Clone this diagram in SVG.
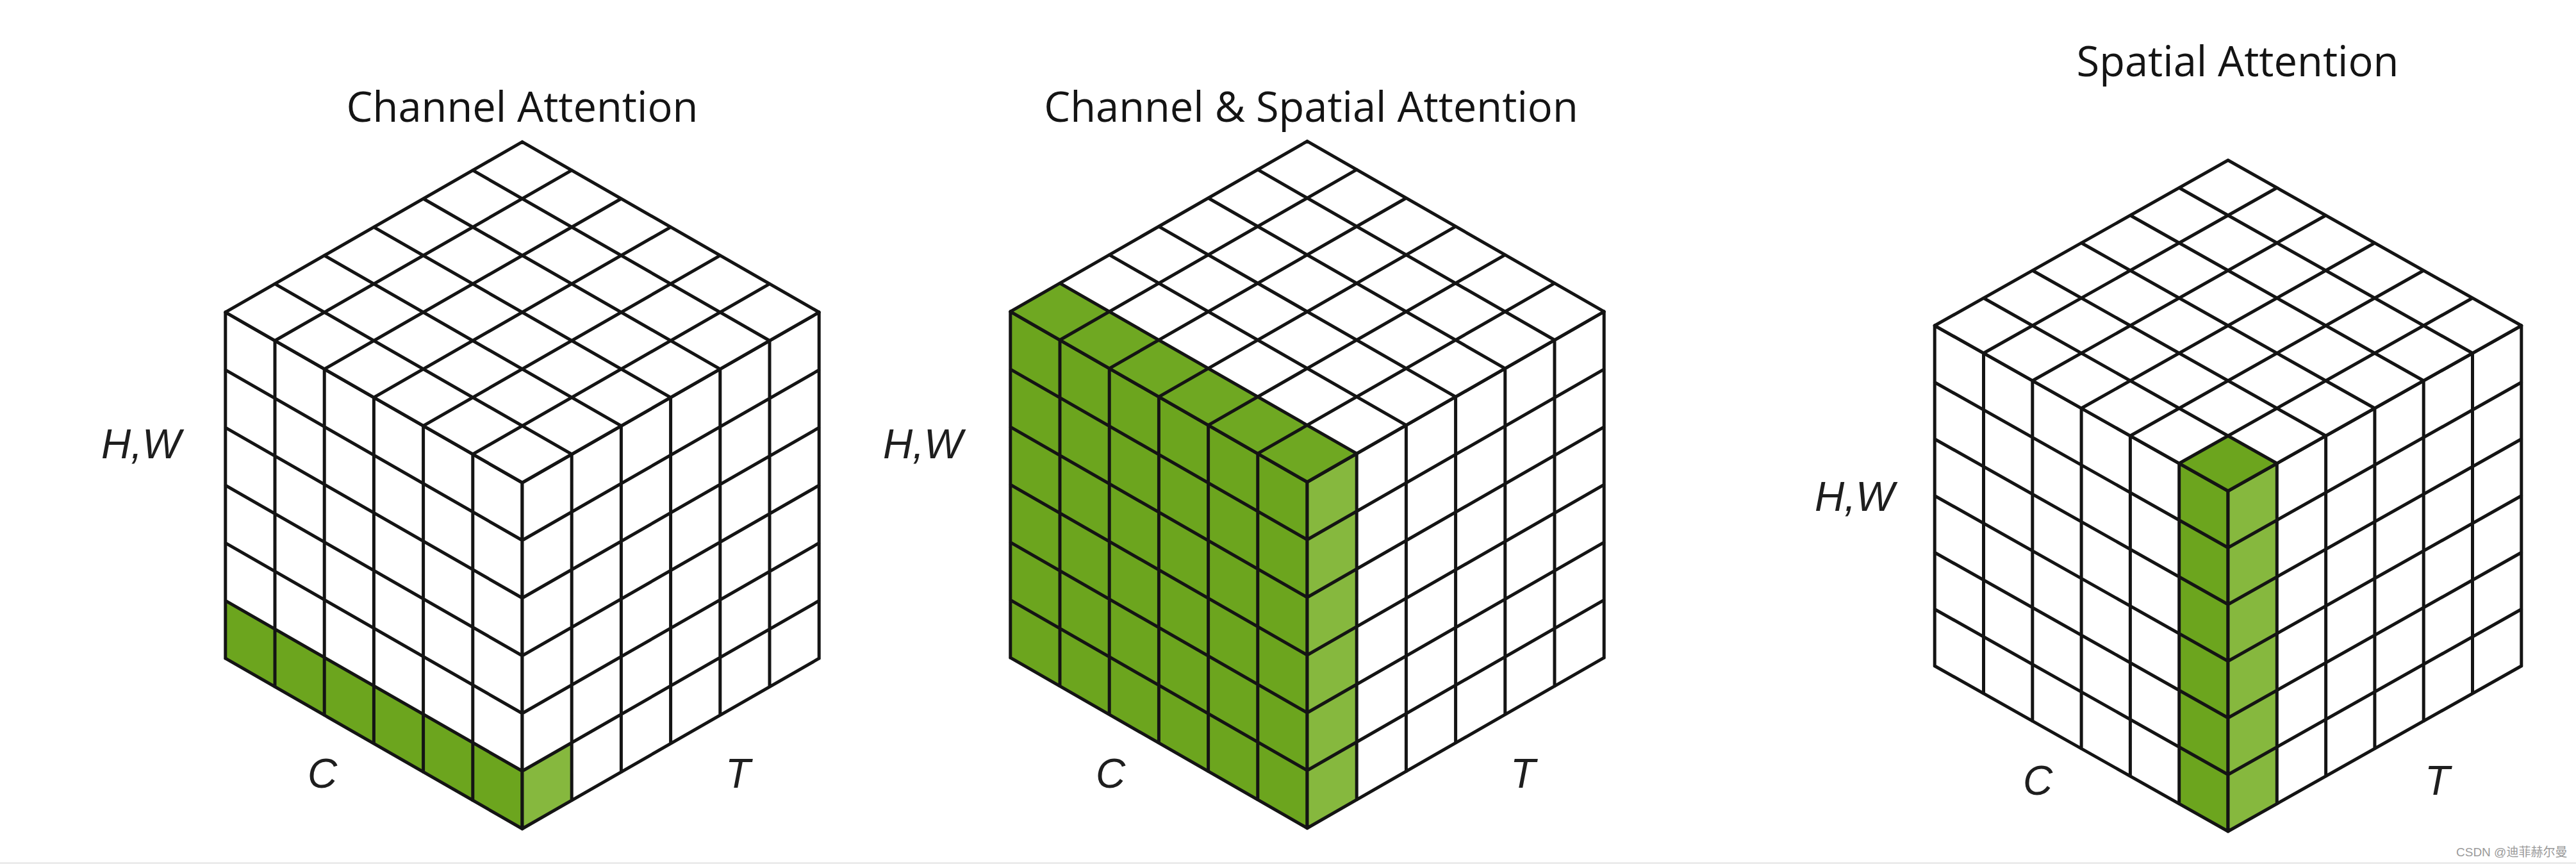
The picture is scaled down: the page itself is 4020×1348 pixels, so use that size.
<svg xmlns="http://www.w3.org/2000/svg" xmlns:xlink="http://www.w3.org/1999/xlink" width="4020" height="1348" viewBox="0 0 4020 1348">
<style>
.grid{fill:none;stroke:#141414;stroke-width:5;stroke-linecap:round;stroke-linejoin:round;vector-effect:non-scaling-stroke}
.face{fill:#ffffff}
.gL{fill:#6ca51e}
.gT{fill:#6fa822}
.gR{fill:#86b83e}
.title{font-family:"Open Sans","Liberation Sans",sans-serif;font-size:65px;fill:#141414;text-anchor:middle}
.axis{font-family:"Liberation Sans",Arial,sans-serif;font-style:italic;font-size:64px;fill:#1e1e1e}
.wm{font-family:"Liberation Sans","Noto Sans CJK SC",sans-serif;font-size:19px;fill:#9a9a9a}
</style>
<defs>
<path id="grid6" class="grid" vector-effect="non-scaling-stroke" d="M0 0H6M0 1H6M0 2H6M0 3H6M0 4H6M0 5H6M0 6H6M0 0V6M1 0V6M2 0V6M3 0V6M4 0V6M5 0V6M6 0V6"/>
</defs>
<rect x="0" y="0" width="4020" height="1348" fill="#ffffff"/>
<line x1="0" y1="1346.5" x2="4020" y2="1346.5" stroke="#e4e4e4" stroke-width="2"/>
<g id="connectors"/>

<g id="cube-channel">
  <text class="title" x="815" y="190">Channel Attention</text>
  <g transform="matrix(77.2 44.3 0 90 351.8 487.2)">
    <rect class="face" x="0" y="0" width="6" height="6"/>
    <rect class="gL" x="0" y="5" width="6" height="1"/>
    <use xlink:href="#grid6" href="#grid6"/>
  </g>
  <g transform="matrix(77.2 -44.3 0 90 815 753)">
    <rect class="face" x="0" y="0" width="6" height="6"/>
    <rect class="gR" x="0" y="5" width="1" height="1"/>
    <use xlink:href="#grid6" href="#grid6"/>
  </g>
  <g transform="matrix(77.2 -44.3 77.2 44.3 351.8 487.2)">
    <rect class="face" x="0" y="0" width="6" height="6"/>
    <use xlink:href="#grid6" href="#grid6"/>
  </g>
  <text class="axis" x="158" y="715">H,W</text>
  <text class="axis" x="480" y="1229">C</text>
  <text class="axis" x="1132" y="1229">T</text>
</g>

<g id="cube-channel-spatial">
  <text class="title" x="2046" y="190">Channel &amp; Spatial Attention</text>
  <g transform="matrix(77.2 44.3 0 90 1576.8 486.2)">
    <rect class="gL" x="0" y="0" width="6" height="6"/>
    <use xlink:href="#grid6" href="#grid6"/>
  </g>
  <g transform="matrix(77.2 -44.3 0 90 2040 752)">
    <rect class="face" x="0" y="0" width="6" height="6"/>
    <rect class="gR" x="0" y="0" width="1" height="6"/>
    <use xlink:href="#grid6" href="#grid6"/>
  </g>
  <g transform="matrix(77.2 -44.3 77.2 44.3 1576.8 486.2)">
    <rect class="face" x="0" y="0" width="6" height="6"/>
    <rect class="gT" x="0" y="0" width="1" height="6"/>
    <use xlink:href="#grid6" href="#grid6"/>
  </g>
  <text class="axis" x="1378" y="715">H,W</text>
  <text class="axis" x="1710" y="1229">C</text>
  <text class="axis" x="2357" y="1229">T</text>
</g>

<g id="cube-spatial">
  <text class="title" x="3492" y="119">Spatial Attention</text>
  <g transform="matrix(76.3 43 0 88.5 3019.2 508)">
    <rect class="face" x="0" y="0" width="6" height="6"/>
    <rect class="gL" x="5" y="0" width="1" height="6"/>
    <use xlink:href="#grid6" href="#grid6"/>
  </g>
  <g transform="matrix(76.3 -43 0 88.5 3477 766)">
    <rect class="face" x="0" y="0" width="6" height="6"/>
    <rect class="gR" x="0" y="0" width="1" height="6"/>
    <use xlink:href="#grid6" href="#grid6"/>
  </g>
  <g transform="matrix(76.3 -43 76.3 43 3019.2 508)">
    <rect class="face" x="0" y="0" width="6" height="6"/>
    <rect class="gL" x="0" y="5" width="1" height="1"/>
    <use xlink:href="#grid6" href="#grid6"/>
  </g>
  <text class="axis" x="2832" y="797">H,W</text>
  <text class="axis" x="3157" y="1240">C</text>
  <text class="axis" x="3784" y="1240">T</text>
</g>

<text id="watermark" class="wm" x="3833" y="1336">CSDN @迪菲赫尔曼</text>
</svg>
